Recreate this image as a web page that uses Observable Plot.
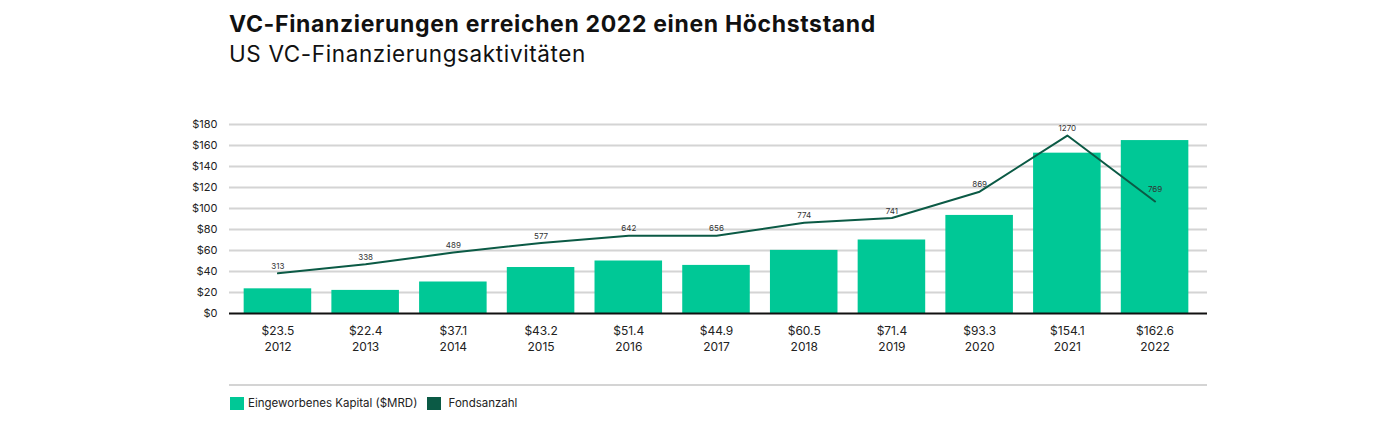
<!DOCTYPE html>
<html>
<head>
<meta charset="utf-8">
<script src="https://cdn.jsdelivr.net/npm/d3@7"></script>
<script src="https://cdn.jsdelivr.net/npm/@observablehq/plot@0.6"></script>
<style>
  html, body { margin: 0; padding: 0; background: #fff; width: 1400px; height: 425px; overflow: hidden; }
  body { position: relative; font-family: Inter, "Noto Sans", sans-serif; color: #111; }
  #title { position: absolute; left: 229px; top: 13px; font-size: 23px; font-weight: 700; line-height: 23px; white-space: nowrap; }
  #subtitle { position: absolute; left: 229px; top: 43px; font-size: 22.5px; font-weight: 400; line-height: 22.5px; white-space: nowrap; }
  #chart { position: absolute; left: 0; top: 100px; }
  #rule { position: absolute; left: 229px; top: 384px; width: 978px; height: 2px; background: #d4d4d4; }
  #legend { position: absolute; left: 230px; top: 396px; font-size: 11.5px; display: flex; align-items: center; color: #222; white-space: nowrap; }
  .sw { width: 14px; height: 13px; display: inline-block; margin-right: 4px; }
  .item { display: flex; align-items: center; margin-right: 10px; }
</style>
</head>
<body>
<div id="title">VC-Finanzierungen erreichen 2022 einen Höchststand</div>
<div id="subtitle">US VC-Finanzierungsaktivitäten</div>
<div id="chart"></div>
<div id="rule"></div>
<div id="legend">
  <span class="item"><span class="sw" style="background:#00C896"></span>Eingeworbenes Kapital ($MRD)</span>
  <span class="item"><span class="sw" style="background:#0B5A45"></span>&nbsp;Fondsanzahl</span>
</div>
<script>
// Categories
const years = ["2012","2013","2014","2015","2016","2017","2018","2019","2020","2021","2022"];
// Capital raised: bar heights as drawn ($B)
const capitalBars = [23.5, 22.0, 30.0, 43.8, 50.0, 45.8, 60.1, 70.0, 93.4, 152.7, 164.7];
// Capital raised: axis labels as printed
const capitalLabels = ["$23.5","$22.4","$37.1","$43.2","$51.4","$44.9","$60.5","$71.4","$93.3","$154.1","$162.6"];
// Fund count: line positions as drawn (secondary axis 0–1350)
const fundLine = [287, 352, 435, 504, 555, 555, 649, 682, 870, 1271, 800];
// Fund count: labels as printed
const fundLabels = ["313","338","489","577","642","656","774","741","869","1270","769"];
// Y axis ticks
const yTicks = [0, 20, 40, 60, 80, 100, 120, 140, 160, 180];

const fundAxisMax = 1350, capitalAxisMax = 180;

// stretch heading text to the reference's measured widths
function fitWidth(id, target) {
  const el = document.getElementById(id);
  const w = el.getBoundingClientRect().width;
  const n = el.textContent.length;
  el.style.letterSpacing = ((target - w) / n) + "px";
}
fitWidth("title", 647);
fitWidth("subtitle", 357);

const rows = years.map((y, i) => ({
  year: y,
  capital: capitalBars[i],
  capLabel: capitalLabels[i],
  funds: fundLine[i],
  fundLabel: fundLabels[i]
}));
const fundY = d => d.funds * capitalAxisMax / fundAxisMax;
const last = rows.length - 1;

const chart = Plot.plot({
  width: 1400,
  height: 275,
  marginLeft: 229,
  marginRight: 193,
  marginTop: 24,
  marginBottom: 62,
  style: { fontFamily: "Inter, 'Noto Sans', sans-serif", color: "#222", background: "transparent" },
  x: { type: "band", domain: years, range: [227, 1205], paddingInner: 0.23, paddingOuter: 0.19, round: false, axis: null },
  y: { domain: [0, capitalAxisMax], axis: null },
  marks: [
    Plot.ruleY(yTicks.filter(t => t > 0), { stroke: "#d4d4d4", strokeWidth: 2 }),
    Plot.text(yTicks, { y: d => d, text: d => "$" + d, frameAnchor: "left", textAnchor: "end", dx: -12, fontSize: 11, fill: "#222" }),
    Plot.barY(rows, { x: "year", y: "capital", fill: "#00C896" }),
    Plot.ruleY([0], { stroke: "#111", strokeWidth: 2 }),
    Plot.line(rows, { x: "year", y: fundY, stroke: "#0B5A45", strokeWidth: 2 }),
    Plot.text(rows.slice(0, last), { x: "year", y: fundY, text: "fundLabel", dy: -7, fontSize: 8, fill: "#333" }),
    Plot.text(rows.slice(last), { x: "year", y: fundY, text: "fundLabel", dy: -12, fontSize: 8, fill: "#333" }),
    Plot.text(rows, { x: "year", y: () => 0, text: "capLabel", dy: 18, fontSize: 12, fill: "#222" }),
    Plot.text(rows, { x: "year", y: () => 0, text: "year", dy: 34, fontSize: 12, fill: "#222" })
  ]
});
document.getElementById("chart").appendChild(chart);
</script>
</body>
</html>
